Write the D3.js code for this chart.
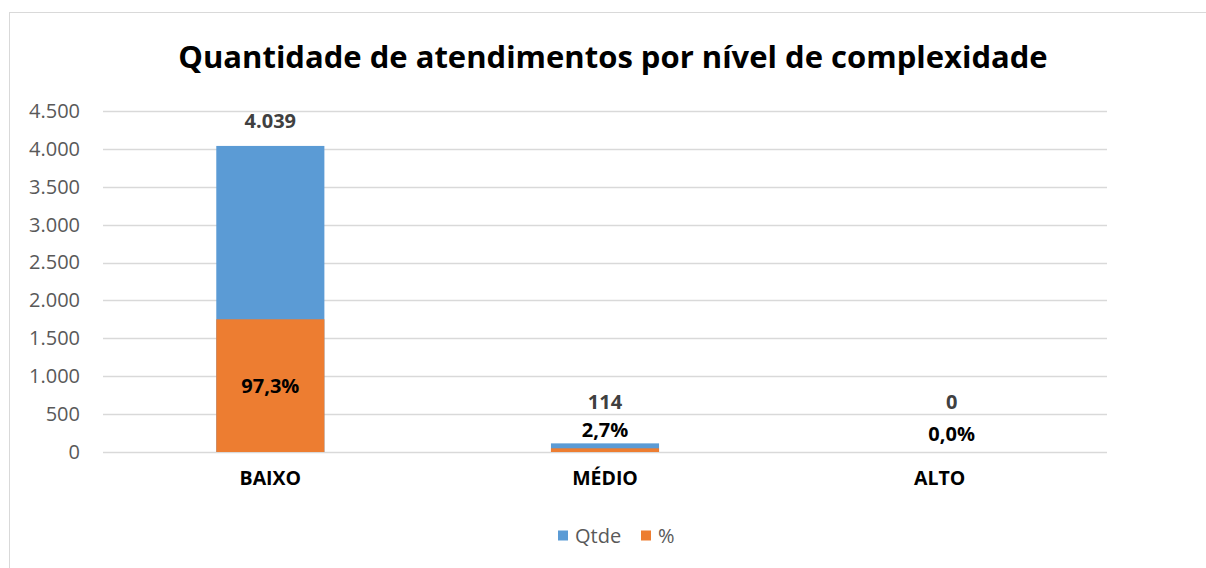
<!DOCTYPE html>
<html>
<head>
<meta charset="utf-8">
<script src="https://cdn.jsdelivr.net/npm/d3@7"></script>
<style>
  body { margin: 0; background: #fff; }
  svg { display: block; font-family: "Open Sans", sans-serif; }
</style>
</head>
<body>
<svg id="chart"></svg>
<script>
var categories = ["BAIXO", "MÉDIO", "ALTO"];
var qtde = [4039, 114, 0];
var pct = [0.973, 0.027, 0.0];
var yTicks = [0, 500, 1000, 1500, 2000, 2500, 3000, 3500, 4000, 4500];
var seriesNames = ["Qtde", "%"];

var width = 1206, height = 568;
var margin = {top: 111, left: 103, right: 99, bottom: 116};
var blue = "#5B9BD5", orange = "#ED7D31";

var svg = d3.select("#chart")
    .attr("width", width)
    .attr("height", height);

// chart frame (only top and left edges show)
svg.append("rect")
    .attr("x", 9.5).attr("y", 12.5)
    .attr("width", width + 20).attr("height", height + 20)
    .attr("fill", "none").attr("stroke", "#D9D9D9").attr("stroke-width", 1);

var xScale = d3.scaleBand()
    .domain(categories)
    .range([margin.left, width - margin.right])
    .paddingInner(0.677).paddingOuter(0.3385);

var yScale = d3.scaleLinear()
    .domain([0, 4500])
    .range([height - margin.bottom, margin.top]);

// hidden secondary axis for the % series
var y2Scale = d3.scaleLinear()
    .domain([0, 2.5])
    .range([height - margin.bottom, margin.top]);

var fmtNum = function(v) { return d3.format(",")(v).replace(/,/g, "."); };
var fmtPct = function(v) { return d3.format(".1f")(v * 100).replace(".", ",") + "%"; };

// gridlines
svg.append("g")
    .selectAll("line")
    .data(yTicks)
    .enter().append("line")
    .attr("x1", margin.left).attr("x2", width - margin.right)
    .attr("y1", function(d) { return Math.round(yScale(d)) + 0.5; })
    .attr("y2", function(d) { return Math.round(yScale(d)) + 0.5; })
    .attr("stroke", "#D9D9D9").attr("stroke-width", 1.5);

// y axis labels
var yAxis = d3.axisLeft(yScale).tickValues(yTicks).tickFormat(fmtNum).tickSize(0).tickPadding(23);
var gy = svg.append("g")
    .attr("transform", "translate(" + margin.left + ",0)")
    .call(yAxis);
gy.select(".domain").remove();
gy.selectAll("text")
    .attr("fill", "#595959")
    .style("font-size", "20px")
    .style("font-family", "'Open Sans', sans-serif");

// x axis labels
var xAxis = d3.axisBottom(xScale).tickSize(0).tickPadding(19);
var gx = svg.append("g")
    .attr("transform", "translate(0," + yScale(0) + ")")
    .call(xAxis);
gx.select(".domain").remove();
gx.selectAll("text")
    .attr("fill", "#000")
    .style("font-size", "19.5px")
    .style("font-weight", "bold")
    .style("font-family", "'Open Sans', sans-serif");

// blue bars (Qtde)
svg.selectAll(".bar-q")
    .data(categories)
    .enter().append("rect")
    .attr("class", "bar-q")
    .attr("x", function(d) { return xScale(d); })
    .attr("width", xScale.bandwidth())
    .attr("y", function(d, i) { return yScale(qtde[i]); })
    .attr("height", function(d, i) { return yScale(0) - yScale(qtde[i]); })
    .attr("fill", blue);

// orange bars (%) overlapped, on secondary scale
svg.selectAll(".bar-p")
    .data(categories)
    .enter().append("rect")
    .attr("class", "bar-p")
    .attr("x", function(d) { return xScale(d); })
    .attr("width", xScale.bandwidth())
    .attr("y", function(d, i) { return y2Scale(pct[i]); })
    .attr("height", function(d, i) { return y2Scale(0) - y2Scale(pct[i]); })
    .attr("fill", orange);

// label x: Excel nudges the labels of the empty bar a bit to the right
var lblX = function(d, i) {
    return xScale(d) + xScale.bandwidth() / 2 + (qtde[i] === 0 ? 12 : 0);
};

// Qtde labels
svg.selectAll(".lbl-q")
    .data(categories)
    .enter().append("text")
    .attr("class", "lbl-q")
    .attr("x", lblX)
    .attr("y", function(d, i) { return Math.min(yScale(qtde[i]) - 25, yScale(0) - 50); })
    .attr("dy", "0.35em")
    .attr("text-anchor", "middle")
    .attr("fill", "#404040")
    .style("font-size", "20px")
    .style("font-weight", "bold")
    .text(function(d, i) { return fmtNum(qtde[i]); });

// % labels
svg.selectAll(".lbl-p")
    .data(categories)
    .enter().append("text")
    .attr("class", "lbl-p")
    .attr("x", lblX)
    .attr("y", function(d, i) {
        var top = y2Scale(pct[i]);
        if (y2Scale(0) - top > 40) return (top + y2Scale(0)) / 2;
        return Math.min(top - 18, y2Scale(0) - 15.5);
    })
    .attr("dy", "0.35em")
    .attr("text-anchor", "middle")
    .attr("fill", "#000")
    .style("font-size", "20px")
    .style("font-weight", "bold")
    .text(function(d, i) { return fmtPct(pct[i]); });

// title
svg.append("text")
    .attr("x", 613)
    .attr("y", 57)
    .attr("dy", "0.35em")
    .attr("text-anchor", "middle")
    .attr("fill", "#000")
    .style("font-size", "31px")
    .style("font-weight", "bold")
    .text("Quantidade de atendimentos por nível de complexidade");

// legend
var legend = svg.append("g").attr("transform", "translate(558,536)");
var legX = [0, 83];
var colors = [blue, orange];
seriesNames.forEach(function(name, i) {
    legend.append("rect")
        .attr("x", legX[i]).attr("y", -5.5)
        .attr("width", 10).attr("height", 10)
        .attr("fill", colors[i]);
    legend.append("text")
        .attr("x", legX[i] + 17).attr("y", 0)
        .attr("dy", "0.35em")
        .attr("fill", "#595959")
        .style("font-size", "20px")
        .text(name);
});
</script>
</body>
</html>
